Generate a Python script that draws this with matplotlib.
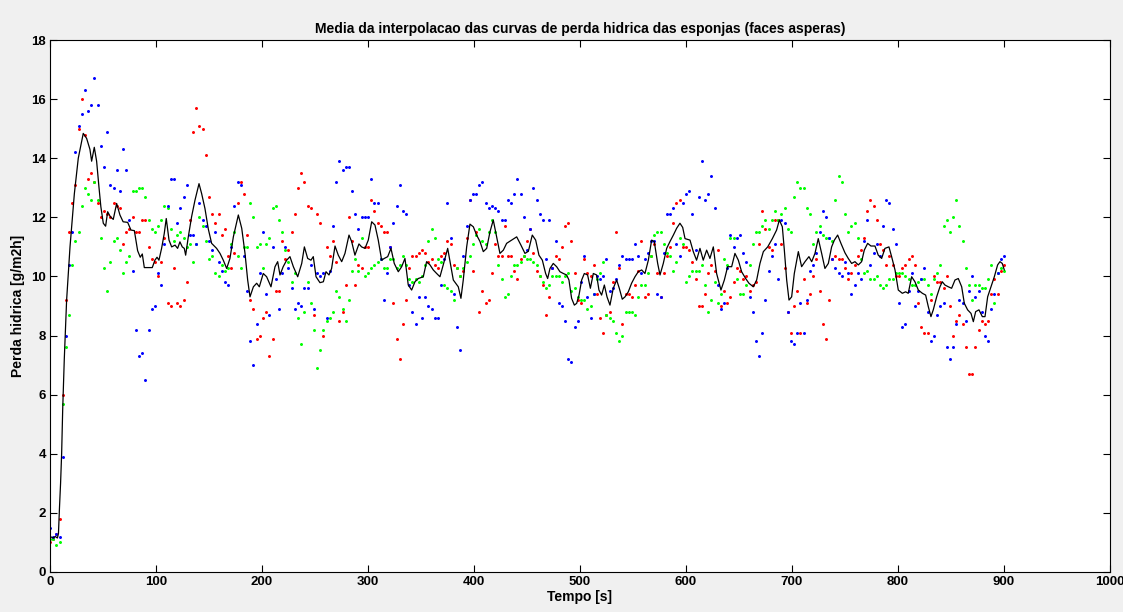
import numpy as np
import matplotlib
matplotlib.use("Agg")
import matplotlib.pyplot as plt

# time grid of the sponge samples (one reading every 3 s)
tempo = np.arange(0, 901, 3)

# sponge 1 (red)
perda_r = [
    1.0, 1.1, 1.3, 1.8, 6.0, 9.2, 11.5, 12.5, 13.1, 15.0,
    16.0, 14.8, 13.3, 13.5, 13.2, 12.5, 12.0, 12.2, 12.1, 12.0,
    12.5, 12.4, 12.3, 11.1, 11.5, 11.6, 12.0, 11.5, 11.5, 11.9,
    11.9, 11.0, 10.6, 10.5, 10.0, 10.5, 11.3, 9.1, 9.0, 10.3,
    9.1, 9.0, 9.2, 9.8, 11.9, 14.9, 15.7, 15.1, 15.0, 14.1,
    12.7, 12.1, 11.8, 12.1, 11.4, 11.6, 10.7, 10.3, 10.8, 12.5,
    13.2, 12.8, 11.4, 9.2, 8.9, 7.9, 8.0, 8.6, 8.8, 7.3,
    7.9, 9.5, 9.5, 11.2, 10.6, 10.9, 11.5, 12.1, 13.0, 13.5,
    13.2, 12.4, 12.3, 8.7, 12.1, 11.8, 8.0, 11.0, 10.7, 11.2,
    10.5, 8.5, 8.8, 9.7, 12.0, 11.2, 9.7, 10.4, 10.3, 11.0,
    11.0, 12.6, 12.2, 11.8, 11.7, 11.5, 11.5, 11.0, 9.1, 7.9,
    7.2, 8.4, 9.2, 10.3, 10.7, 10.7, 10.8, 10.9, 10.8, 10.5,
    10.6, 10.4, 10.3, 10.7, 10.8, 11.2, 11.1, 10.4, 10.3, 10.0,
    10.2, 11.3, 12.6, 10.2, 11.5, 8.8, 9.5, 9.1, 9.2, 10.1,
    11.1, 10.7, 10.7, 11.7, 10.7, 10.7, 10.2, 9.9, 10.6, 10.7,
    11.2, 11.6, 10.8, 10.2, 10.0, 9.7, 8.7, 9.3, 10.3, 10.7,
    10.6, 11.0, 11.7, 11.8, 11.2, 10.1, 9.2, 9.1, 10.6, 10.1,
    10.0, 10.4, 9.4, 8.6, 8.1, 8.7, 8.8, 9.8, 11.5, 10.3,
    8.4, 9.4, 9.4, 9.3, 9.7, 10.2, 11.2, 9.3, 9.4, 10.7,
    11.1, 10.1, 9.3, 10.1, 10.7, 11.0, 11.8, 12.5, 12.6, 11.0,
    11.0, 10.9, 10.5, 9.9, 9.0, 9.0, 9.4, 10.1, 10.4, 10.2,
    10.9, 9.0, 9.5, 9.1, 9.3, 9.8, 10.3, 10.2, 9.9, 10.0,
    9.5, 9.7, 9.8, 11.1, 12.2, 11.6, 11.0, 10.9, 11.9, 11.9,
    11.1, 10.3, 8.8, 8.1, 9.0, 9.5, 8.1, 9.9, 9.1, 9.4,
    10.0, 10.6, 9.5, 8.4, 7.9, 9.2, 10.6, 10.7, 10.6, 10.6,
    10.3, 9.9, 10.1, 10.4, 10.7, 10.9, 11.3, 12.2, 12.6, 12.4,
    11.9, 11.1, 10.9, 10.4, 10.7, 10.4, 10.0, 10.0, 10.3, 10.4,
    10.6, 10.7, 10.4, 9.1, 8.3, 8.1, 8.1, 9.2, 10.0, 9.8,
    9.8, 9.6, 10.0, 9.0, 8.0, 8.5, 8.7, 8.4, 7.6, 6.7,
    6.7, 7.6, 8.2, 8.5, 8.4, 8.5, 9.4, 9.9, 9.4, 10.2,
    10.4,
]

# sponge 2 (green)
perda_g = [
    1.1, 1.1, 0.9, 1.0, 5.7, 7.6, 8.7, 10.4, 11.2, 11.5,
    12.4, 13.0, 12.8, 12.6, 13.2, 12.6, 11.3, 10.3, 9.5, 10.5,
    11.2, 11.3, 10.9, 10.1, 10.5, 10.7, 12.9, 12.9, 13.0, 13.0,
    12.7, 11.9, 11.6, 11.5, 11.7, 11.9, 12.4, 12.3, 11.6, 11.2,
    11.4, 11.5, 11.3, 11.0, 11.1, 10.5, 11.1, 12.0, 11.7, 11.2,
    10.6, 10.7, 10.1, 10.0, 10.4, 10.2, 10.3, 11.1, 11.5, 10.7,
    10.3, 11.0, 11.0, 12.5, 12.0, 11.0, 11.1, 10.3, 11.1, 11.3,
    12.3, 12.4, 11.9, 11.5, 10.9, 10.5, 9.8, 10.1, 8.6, 7.7,
    8.8, 9.8, 9.1, 8.2, 6.9, 7.5, 8.2, 8.5, 8.6, 8.8,
    9.5, 9.3, 8.9, 8.5, 9.2, 10.2, 10.6, 10.2, 11.3, 10.0,
    10.1, 10.3, 10.4, 10.5, 10.6, 10.3, 10.3, 10.6, 10.6, 10.3,
    10.4, 10.7, 10.4, 9.9, 9.8, 9.9, 9.8, 10.0, 10.4, 11.2,
    11.6, 11.3, 10.6, 10.5, 9.7, 9.6, 9.5, 9.2, 10.3, 10.0,
    10.3, 10.5, 10.7, 11.1, 11.4, 11.6, 11.2, 11.1, 11.5, 11.9,
    11.5, 10.4, 9.9, 9.3, 9.4, 10.0, 10.4, 10.4, 10.5, 10.7,
    10.6, 10.6, 10.5, 10.4, 10.0, 9.8, 9.6, 9.7, 10.0, 10.0,
    10.0, 9.8, 10.0, 10.1, 9.5, 9.6, 9.3, 9.2, 9.2, 8.9,
    9.0, 9.4, 9.9, 10.1, 10.5, 8.7, 8.6, 8.5, 8.1, 7.8,
    8.0, 8.8, 8.8, 8.8, 8.7, 9.3, 9.7, 9.7, 10.1, 10.7,
    11.4, 11.5, 11.5, 11.1, 10.8, 10.7, 10.2, 10.5, 11.3, 11.1,
    9.8, 10.0, 10.2, 10.2, 10.2, 10.4, 9.7, 8.8, 9.2, 9.8,
    9.1, 9.4, 10.6, 10.4, 11.3, 11.3, 9.9, 9.4, 9.4, 9.7,
    10.4, 11.1, 11.5, 11.5, 11.7, 11.9, 11.6, 11.9, 12.2, 11.9,
    12.1, 12.3, 11.6, 11.5, 12.7, 13.2, 13.0, 13.0, 12.3, 12.1,
    11.1, 11.5, 11.7, 11.4, 11.3, 11.3, 11.2, 12.6, 13.4, 13.2,
    12.1, 11.5, 11.7, 11.8, 11.3, 10.6, 10.1, 10.2, 9.9, 9.9,
    10.0, 9.7, 9.6, 9.7, 9.9, 9.9, 10.1, 10.1, 10.1, 10.0,
    9.9, 9.7, 9.7, 9.8, 9.9, 9.9, 9.7, 9.4, 9.9, 10.1,
    10.4, 11.7, 11.9, 11.5, 12.0, 12.6, 11.7, 11.2, 10.3, 9.7,
    9.2, 9.7, 9.7, 9.6, 9.6, 9.9, 10.4, 9.1, 10.1, 10.3,
    10.2,
]

# sponge 3 (blue)
perda_b = [
    1.5, 1.2, 1.3, 1.2, 3.9, 8.0, 10.4, 11.5, 14.2, 15.1,
    15.5, 16.3, 15.6, 15.8, 16.7, 15.8, 14.4, 13.7, 14.9, 13.1,
    13.0, 13.6, 12.9, 14.3, 13.6, 11.9, 10.2, 8.2, 7.3, 7.4,
    6.5, 8.2, 8.9, 9.0, 10.1, 9.7, 11.1, 12.4, 13.3, 13.3,
    11.8, 12.3, 12.7, 13.1, 11.4, 11.4, 11.1, 12.5, 11.9, 11.7,
    11.2, 10.9, 11.5, 10.5, 10.2, 9.8, 9.7, 11.0, 12.4, 13.2,
    13.1, 10.7, 9.5, 7.8, 7.0, 8.4, 10.1, 11.5, 9.4, 8.7,
    11.0, 9.9, 8.9, 10.1, 11.0, 10.3, 9.6, 8.9, 9.1, 9.0,
    9.6, 9.6, 10.4, 8.9, 10.1, 10.0, 10.1, 8.6, 10.2, 11.7,
    13.2, 13.9, 13.6, 13.7, 13.7, 12.9, 12.1, 11.6, 12.0, 12.0,
    12.0, 13.3, 12.5, 12.5, 10.6, 9.2, 10.1, 11.0, 11.8, 12.4,
    13.1, 12.2, 12.1, 9.7, 8.8, 8.4, 9.3, 8.6, 9.3, 9.0,
    8.9, 8.6, 8.6, 9.7, 10.6, 12.5, 11.3, 9.4, 8.3, 7.5,
    10.7, 11.7, 12.6, 12.8, 12.8, 13.1, 13.2, 12.5, 12.3, 12.4,
    12.3, 12.2, 11.9, 11.9, 12.6, 12.5, 12.8, 13.3, 12.8, 12.0,
    10.9, 11.6, 13.0, 12.6, 12.1, 11.9, 10.6, 11.9, 10.3, 11.2,
    9.1, 9.0, 8.5, 7.2, 7.1, 8.3, 8.5, 9.8, 10.7, 9.3,
    8.6, 9.4, 10.0, 9.9, 10.0, 10.6, 9.5, 9.6, 9.9, 10.4,
    10.7, 10.6, 10.6, 10.6, 11.1, 10.7, 10.1, 10.6, 10.8, 11.2,
    11.2, 9.4, 9.3, 10.8, 12.1, 12.1, 12.3, 11.1, 10.7, 12.5,
    12.8, 12.9, 12.1, 10.9, 12.7, 13.9, 12.6, 12.8, 13.4, 12.3,
    9.7, 8.9, 9.1, 10.3, 11.4, 11.0, 11.3, 11.4, 10.8, 10.5,
    9.3, 8.8, 7.8, 7.3, 8.1, 9.2, 10.2, 10.7, 11.1, 9.9,
    11.9, 11.8, 8.8, 7.8, 7.7, 8.1, 9.1, 8.1, 9.2, 10.2,
    10.4, 10.8, 11.5, 12.2, 12.0, 11.3, 10.6, 10.3, 10.1, 10.0,
    10.5, 10.1, 9.4, 9.7, 10.1, 9.9, 11.2, 11.9, 10.4, 10.8,
    11.1, 10.7, 11.7, 12.6, 12.5, 11.6, 11.1, 9.1, 8.3, 8.4,
    9.5, 10.1, 9.0, 9.5, 9.9, 10.3, 8.8, 7.8, 8.0, 8.7,
    9.0, 9.1, 7.6, 7.2, 7.6, 8.4, 9.2, 9.1, 8.5, 9.5,
    10.0, 9.3, 9.5, 8.8, 8.0, 7.8, 8.9, 9.4, 10.1, 10.6,
    10.7,
]

# mean of the interpolated curves (black line)
tempo_media = [
    0, 3, 5, 7, 8, 9, 10, 11, 12, 13.5, 15.7, 18.9, 23, 26.7, 31.4, 34.6, 37.7, 39.3, 41.8, 44,
    46.2, 48, 50.3, 52.5, 54.4, 57, 59.7, 62.9, 66, 69, 73.3, 76.4, 79.6, 82.7, 85.2, 87.1, 89,
    92.8, 96.5, 99, 101, 102.8, 105.3, 107.8, 109.7, 112.3, 114.8, 118, 120.4, 122.6, 124.8,
    126.7, 128, 130.5, 133.6, 136.8, 140.6, 143.1, 146.2, 149.4, 152.5, 157.2, 160.4, 163.5,
    166.7, 169.8, 173, 177.7, 180.9, 184, 186.5, 188.7, 191.9, 195, 197.5, 201.2, 204.4, 208.5,
    212.3, 214.8, 217, 220, 223.3, 226.4, 229.6, 233.7, 237.5, 240, 243.1, 246.2, 248.4, 251,
    254.7, 257.9, 260.4, 263.2, 265.7, 268.9, 272, 275.2, 278.3, 282.1, 284.6, 287.7, 291.5,
    294, 297.2, 300.3, 303.5, 306.6, 309.7, 312.9, 315.4, 318.6, 321.7, 324.8, 328.6, 331.8,
    334.9, 338, 341.2, 344.3, 347.5, 352.2, 355.3, 358.5, 361.6, 364.8, 367.9, 371, 375.2,
    378.3, 380.5, 382.7, 385.2, 387.7, 389.9, 393.1, 396.2, 399.4, 402.5, 405.7, 408.8, 412,
    415.1, 418.2, 421.4, 424.5, 427.7, 430.8, 435.5, 440.3, 444.3, 448.1, 451.3, 455, 458.2,
    461.3, 464.5, 467.6, 469.5, 471.7, 474.8, 478, 481.1, 484.3, 487.4, 489.6, 492.1, 494.7,
    496.9, 499.1, 501.6, 504.1, 507.2, 509.8, 512.6, 515.7, 517.9, 520.4, 523, 525.5, 528.3,
    531.4, 534.6, 537.1, 539.9, 542.5, 545.6, 548.7, 551.9, 555, 558.2, 561.3, 564.5, 567.6,
    570.1, 573.3, 575.5, 578.6, 581.8, 584.9, 588.1, 591.2, 594.3, 596.9, 599.1, 603.8, 606.9,
    610, 613.2, 616.3, 619.5, 622.6, 625.8, 628.9, 633, 636.2, 639.3, 643.1, 646.2, 649.4,
    652.5, 656.3, 659.4, 663.5, 666.7, 669.8, 673, 677.1, 681.5, 685.5, 688.1, 690.9, 692.8,
    695, 697.2, 699.7, 702.2, 706, 709.1, 712.3, 716, 718.6, 721.7, 724.8, 728, 731.1, 734.3,
    737.4, 740, 743.1, 746.2, 750, 753.1, 756.3, 759.4, 762.6, 765.7, 768.2, 771.4, 774.5,
    778.3, 781.4, 784.6, 787.7, 791.5, 794, 797.2, 800.3, 804.1, 807.2, 809.7, 812.9, 816,
    819.2, 823, 826.1, 828.6, 831.1, 833.3, 836.5, 839.6, 841.8, 844.3, 847.5, 850.6, 853.8,
    856.9, 860.1, 862.6, 865.7, 868.9, 871.1, 873.3, 876.4, 879.6, 882.1, 884.6, 887.7, 890.9,
    894, 896.2, 898.4, 900.3,
]
perda_media = [
    1.2, 1.15, 1.2, 1.15, 1.3, 2.2, 3.0, 4.0, 5.5, 7.2, 9.2, 11.0, 12.8, 14.0, 14.84, 14.67, 14.3, 13.9, 14.37, 13.9,
    13.03, 12.36, 11.8, 11.7, 12.19, 12.02, 11.93, 12.47, 12.08, 11.85, 11.83, 11.57, 11.55, 10.87, 10.65, 10.76, 10.3,
    10.3, 10.3, 10.55, 10.65, 10.55, 10.95, 11.45, 11.96, 11.23, 11.0, 11.06, 10.95, 11.17, 11.0,
    10.95, 10.72, 11.34, 12.02, 12.58, 13.14, 12.8, 12.3, 11.6, 11.12, 10.95, 10.78, 10.55,
    10.27, 10.61, 11.34, 12.08, 11.63, 10.78, 9.88, 9.31, 9.65, 9.77, 9.65, 10.1, 9.99, 9.65,
    10.33, 10.5, 10.05, 10.33, 10.55, 10.67, 10.33, 9.99, 10.44, 11.0, 10.61, 10.55, 10.67, 9.99,
    9.79, 9.82, 10.16, 10.05, 10.27, 11.03, 10.72, 10.5, 10.78, 11.4, 11.18, 10.72, 11.1,
    11.0, 10.95, 11.23, 11.85, 11.74, 11.23, 10.55, 10.61, 10.67, 10.95, 10.44, 10.16, 10.33,
    10.61, 9.71, 9.54, 9.82, 9.93, 9.99, 10.5, 10.39, 10.22, 10.1, 9.99, 10.39, 10.95,
    10.33, 9.88, 9.77, 9.65, 9.26, 9.88, 11.0, 11.77, 11.68, 11.4, 11.18, 10.84, 10.95,
    11.51, 11.91, 11.34, 10.78, 10.89, 11.12, 11.23, 11.34, 11.06, 10.78, 10.85, 11.4, 11.23,
    10.72, 10.55, 10.1, 9.93, 10.27, 10.44, 10.33, 10.16, 10.1, 10.05, 9.88, 9.26, 9.03,
    9.09, 9.37, 9.88, 10.1, 10.05, 9.6, 10.1, 10.05, 9.54, 9.37, 9.71, 9.31, 9.03,
    9.6, 9.88, 9.6, 9.23, 9.31, 9.48, 9.77, 9.99, 10.16, 10.22, 10.1, 10.55, 11.23,
    11.18, 10.44, 10.05, 10.44, 10.95, 11.18, 11.4, 11.63, 11.8, 11.66, 11.28, 11.23, 10.84,
    10.55, 10.95, 10.55, 10.89, 10.61, 11.0, 10.1, 9.54, 9.88, 10.33, 10.33, 10.78, 10.55,
    10.16, 9.93, 9.77, 9.65, 9.88, 10.44, 10.84, 11.0, 11.28, 11.57, 11.91, 11.68, 10.89,
    9.88, 9.2, 9.31, 10.1, 10.84, 10.33, 10.5, 10.67, 10.5, 10.78, 11.28, 10.78, 10.27, 10.44,
    11.0, 11.23, 11.4, 11.12, 10.8, 10.61, 10.44, 10.5, 10.39, 10.5, 10.89, 11.12, 11.03,
    11.03, 10.72, 10.61, 10.95, 11.0, 10.67, 10.22, 9.54, 9.43, 9.48, 9.43, 9.99, 9.82,
    9.54, 9.43, 9.37, 8.98, 8.64, 8.87, 9.31, 9.65, 9.82, 9.71, 9.65, 9.6, 9.88,
    9.93, 9.65, 9.09, 8.87, 8.75, 8.47, 8.81, 8.87, 8.64, 8.64, 9.31, 9.65, 9.99,
    10.39, 10.5, 10.44, 10.22,
]

plt.rcParams['font.family'] = ['Liberation Sans', 'DejaVu Sans']

fig = plt.figure(figsize=(11.23, 6.12), dpi=100, facecolor='#f0f0f0')
ax = fig.add_axes([0.0445, 0.0654, 0.9439, 0.8692])
ax.set_facecolor('white')

ms = 2.3
ax.plot(tempo, perda_r, '.', color=(1, 0, 0), markersize=ms, zorder=2)
ax.plot(tempo, perda_g, '.', color=(0, 1, 0), markersize=ms, zorder=2)
ax.plot(tempo, perda_b, '.', color=(0, 0, 1), markersize=ms, zorder=2)
ax.plot(tempo_media, perda_media, '-', color='black', linewidth=0.9, zorder=3)

ax.set_xlim(0, 1000)
ax.set_ylim(0, 18)
ax.set_xticks(np.arange(0, 1001, 100))
ax.set_yticks(np.arange(0, 19, 2))
ax.tick_params(direction='in', top=True, right=True, length=5, width=0.8,
               labelsize=9.5, pad=3)
for lab in ax.get_xticklabels() + ax.get_yticklabels():
    lab.set_fontweight('bold')
for sp in ax.spines.values():
    sp.set_linewidth(0.8)

ax.set_title('Media da interpolacao das curvas de perda hidrica das esponjas (faces asperas)',
             fontsize=10, fontweight='bold', pad=5)
ax.set_xlabel('Tempo [s]', fontsize=10, fontweight='bold', labelpad=1)
ax.set_ylabel('Perda hidrica [g/m2h]', fontsize=10, fontweight='bold', labelpad=4)

fig.savefig('out.png', dpi=100, facecolor=fig.get_facecolor())
